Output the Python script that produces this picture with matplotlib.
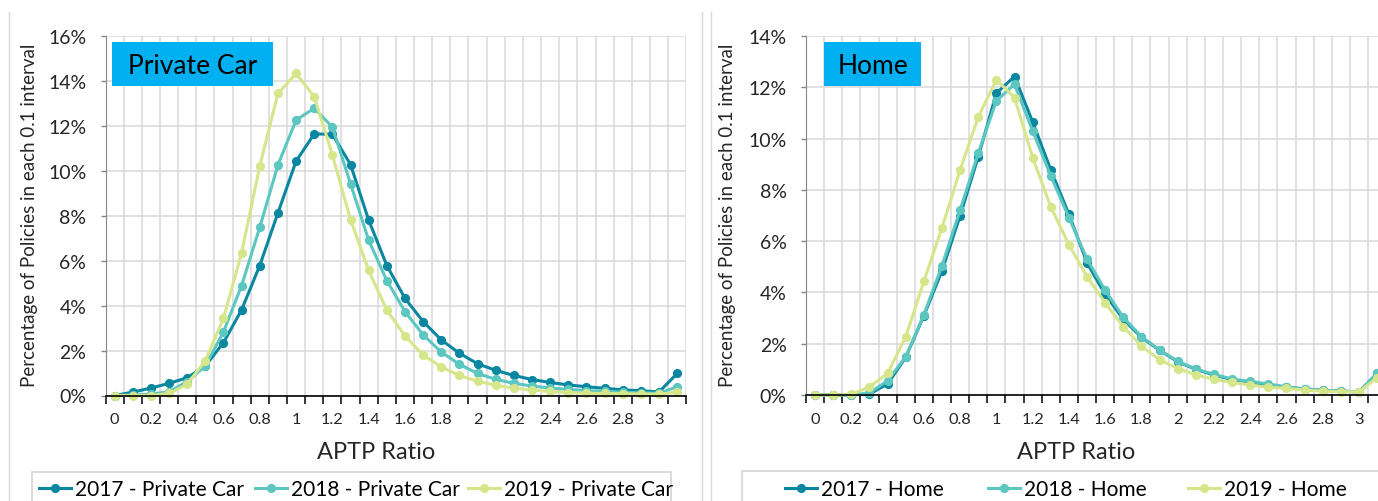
import numpy as np
import matplotlib
matplotlib.use("Agg")
import matplotlib.pyplot as plt
from matplotlib.lines import Line2D
from matplotlib.patches import Rectangle

plt.rcParams['font.family'] = ['Lato', 'DejaVu Sans']

# APTP ratio categories (0.1 intervals)
ratios = [round(0.1 * i, 1) for i in range(32)]
tick_labels = ['0', '0.2', '0.4', '0.6', '0.8', '1', '1.2', '1.4', '1.6', '1.8',
               '2', '2.2', '2.4', '2.6', '2.8', '3']

# Private car, % of policies in each interval
car_2017 = [0, 0.15, 0.33, 0.54, 0.79, 1.31, 2.35, 3.81, 5.78, 8.12, 10.42, 11.63,
            11.62, 10.27, 7.8, 5.78, 4.32, 3.29, 2.47, 1.88, 1.41, 1.12, 0.89, 0.71,
            0.58, 0.47, 0.39, 0.32, 0.25, 0.21, 0.16, 0.98]
car_2018 = [0, 0.02, 0.06, 0.17, 0.62, 1.31, 2.83, 4.89, 7.48, 10.25, 12.25, 12.77,
            11.94, 9.42, 6.9, 5.11, 3.73, 2.7, 1.93, 1.39, 0.98, 0.72, 0.54, 0.42,
            0.33, 0.27, 0.22, 0.18, 0.15, 0.12, 0.1, 0.39]
car_2019 = [0, 0, 0, 0.09, 0.5, 1.55, 3.43, 6.35, 10.2, 13.43, 14.32, 13.29,
            10.7, 7.82, 5.56, 3.8, 2.65, 1.8, 1.27, 0.89, 0.64, 0.45, 0.33, 0.24,
            0.18, 0.13, 0.1, 0.09, 0.08, 0.07, 0.06, 0.15]

# Home
home_2017 = [0, 0, 0, 0.04, 0.43, 1.47, 3.09, 4.84, 6.99, 9.29, 11.77, 12.42,
             10.65, 8.78, 7.05, 5.15, 3.92, 2.95, 2.25, 1.74, 1.3, 1.0, 0.78, 0.6,
             0.5, 0.4, 0.3, 0.24, 0.19, 0.15, 0.12, 0.85]
home_2018 = [0, 0, 0, 0.08, 0.56, 1.49, 3.13, 5.04, 7.21, 9.43, 11.47, 12.12,
             10.3, 8.55, 6.92, 5.3, 4.08, 3.03, 2.28, 1.75, 1.32, 1.01, 0.81, 0.62,
             0.53, 0.43, 0.32, 0.23, 0.19, 0.15, 0.13, 0.84]
home_2019 = [0, 0, 0.02, 0.32, 0.84, 2.27, 4.43, 6.52, 8.78, 10.84, 12.29, 11.6,
             9.26, 7.34, 5.86, 4.62, 3.59, 2.66, 1.91, 1.38, 1.03, 0.79, 0.61, 0.49,
             0.39, 0.3, 0.26, 0.19, 0.15, 0.13, 0.12, 0.68]

years = ['2017', '2018', '2019']
colors = ['#0A87A0', '#5CC6C0', '#D5E68B']

W, H = 1378, 502
fig = plt.figure(figsize=(W / 100, H / 100), dpi=100)


def px_axes(x0, y_top, x1, y_bot):
    return fig.add_axes([x0 / W, (H - y_bot) / H, (x1 - x0) / W, (y_bot - y_top) / H])


def px_rect(x0, y_top, x1, y_bot, **kw):
    r = Rectangle((x0 / W, (H - y_bot) / H), (x1 - x0) / W, (y_bot - y_top) / H,
                  transform=fig.transFigure, **kw)
    fig.patches.append(r)


def style_axes(ax, ymax):
    idx = np.arange(len(ratios))
    ax.set_xlim(-0.5, len(ratios) - 0.5)
    ax.set_ylim(0, ymax)
    ax.set_xticks(np.arange(-0.5, len(ratios)), minor=False)
    ax.set_xticklabels([])
    ax.set_xticks(idx[::2], minor=True)
    ax.set_xticklabels(tick_labels, minor=True, fontsize=11.8, color='#262626')
    ax.tick_params(axis='x', which='major', direction='out', length=5.5, width=1.1,
                   color='black')
    ax.tick_params(axis='x', which='minor', length=0, pad=12)
    yt = np.arange(0, ymax + 0.1, 2)
    ax.set_yticks(yt)
    ax.set_yticklabels([f'{int(v)}%' for v in yt], fontsize=14, color='#262626')
    ax.tick_params(axis='y', direction='out', length=3.8, width=1, color='#868686', pad=10)
    ax.grid(True, which='major', color='#D9D9D9', linewidth=1.1)
    ax.set_axisbelow(True)
    for s in ['top', 'right']:
        ax.spines[s].set_visible(False)
    ax.spines['left'].set_color('#868686')
    ax.spines['bottom'].set_color('black')
    ax.spines['bottom'].set_linewidth(1.2)
    ax.spines['bottom'].set_zorder(5)


def draw(ax, series, name):
    handles = []
    for i, (vals, c) in enumerate(zip(series, colors)):
        ln, = ax.plot(np.arange(len(ratios)), vals, color=c, lw=2.2, marker='o',
                      markersize=5.6, zorder=3 + i, clip_on=False,
                      label=f'{years[i]} - {name}')
        handles.append(ln)
    return handles


def legend_row(handles, xs):
    # one entry per legend so each sits where the original puts it
    for h, xh in zip(handles, xs):
        fig.legend(handles=[h], loc='center left', bbox_to_anchor=(xh / W, (H - 490) / H),
                   frameon=False, handlelength=1.55, handletextpad=0.2,
                   borderpad=0, borderaxespad=0, fontsize=15)


# chart frames
for xf in [9, 702, 711]:
    fig.add_artist(Line2D([xf / W, xf / W], [0, (H - 13) / H], color='#D9D9D9', lw=1,
                          transform=fig.transFigure))

# left panel: private car
ax1 = px_axes(105.5, 36.7, 686.3, 396.5)
style_axes(ax1, 16)
h1 = draw(ax1, [car_2017, car_2018, car_2019], 'Private Car')

# right panel: home
ax2 = px_axes(806, 37, 1386.2, 396)
style_axes(ax2, 14)
h2 = draw(ax2, [home_2017, home_2018, home_2019], 'Home')

# axis titles
for xc, yl in [(30, 215), (727, 215)]:
    fig.text(xc / W, (H - yl) / H, 'Percentage of Policies in each 0.1 interval',
             rotation=90, ha='center', va='center', fontsize=13.5, color='#262626')
for xc in [376, 1076]:
    fig.text(xc / W, (H - 453) / H, 'APTP Ratio', ha='center', va='center',
             fontsize=17, color='#262626')

# panel name boxes
px_rect(111.7, 42.7, 273, 86.7, facecolor='#00B0F0', edgecolor='none', zorder=10)
fig.text(192.5 / W, (H - 66) / H, 'Private Car', ha='center', va='center',
         fontsize=19, color='black', zorder=11)
px_rect(824, 43, 921, 87, facecolor='#00B0F0', edgecolor='none', zorder=10)
fig.text(872.5 / W, (H - 66) / H, 'Home', ha='center', va='center',
         fontsize=19, color='black', zorder=11)

# legends (bottom part cut off like the original)
px_rect(31.7, 473, 670.7, 530, facecolor='none', edgecolor='#D9D9D9', lw=1.3)
px_rect(742, 472, 1395, 530, facecolor='none', edgecolor='#D9D9D9', lw=1.3)
legend_row(h1, [39, 255, 468])
legend_row(h2, [785, 988, 1188])

fig.savefig('out.png', dpi=100)
